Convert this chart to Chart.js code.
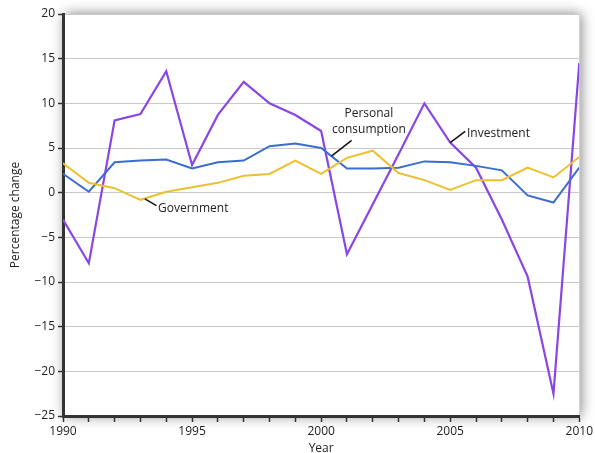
<!DOCTYPE html>
<html>
<head>
<meta charset="utf-8">
<script src="https://cdn.jsdelivr.net/npm/chart.js@4/dist/chart.umd.min.js"></script>
<style>
    html, body { margin: 0; padding: 0; background: #fff; }
    #wrap { width: 595px; height: 453px; }
</style>
</head>
<body>
<div id="wrap"><canvas id="myChart" width="595" height="453"></canvas></div>
<script>
(function () {
    "use strict";

    var years = [1990, 1991, 1992, 1993, 1994, 1995, 1996, 1997, 1998, 1999, 2000,
                 2001, 2002, 2003, 2004, 2005, 2006, 2007, 2008, 2009, 2010];

    var investment = [-3.0, -7.9, 8.1, 8.8, 13.6, 3.1, 8.7, 12.4, 10.0, 8.7, 6.9,
                      -6.9, -1.3, 4.3, 10.0, 5.6, 2.8, -3.0, -9.4, -22.5, 14.5];

    var consumption = [2.1, 0.1, 3.4, 3.6, 3.7, 2.7, 3.4, 3.6, 5.2, 5.5, 5.0,
                       2.7, 2.7, 2.8, 3.5, 3.4, 3.0, 2.5, -0.3, -1.1, 2.8];

    var government = [3.3, 1.1, 0.5, -0.8, 0.1, 0.6, 1.1, 1.9, 2.1, 3.6, 2.1,
                      3.9, 4.7, 2.2, 1.4, 0.3, 1.4, 1.4, 2.8, 1.7, 4.0];

    var yTicks = [-25, -20, -15, -10, -5, 0, 5, 10, 15, 20];
    var xLabelYears = [1990, 1995, 2000, 2005, 2010];

    // series labels in data units, with their leader lines
    var labels = [
        { lines: ['Personal', 'consumption'], x: 2001.85, y: 8.9, from: [2001.18, 5.85], to: [2000.4, 4.1], align: 'center' },
        { lines: ['Investment'], x: 2005.65, y: 6.6, from: [2005.58, 6.85], to: [2005.0, 5.6], align: 'left' },
        { lines: ['Government'], x: 1993.68, y: -1.8, from: [1993.17, -0.7], to: [1993.62, -1.45], align: 'left' }
    ];

    var fontFamily = '"Open Sans", "Liberation Sans", sans-serif';

    var panelShadow = {
        id: 'panelShadow',
        beforeDraw: function (chart) {
            var a = chart.chartArea, ctx = chart.ctx;
            ctx.save();
            ctx.shadowColor = 'rgba(0,0,0,0.5)';
            ctx.shadowBlur = 12;
            ctx.shadowOffsetX = 2;
            ctx.shadowOffsetY = 0;
            ctx.fillStyle = '#fff';
            ctx.fillRect(a.left, a.top, a.right - a.left, a.bottom - a.top);
            ctx.restore();
            ctx.save();
            ctx.strokeStyle = '#d4d4d4';
            ctx.lineWidth = 1;
            ctx.beginPath();
            ctx.moveTo(a.right + 0.5, a.top);
            ctx.lineTo(a.right + 0.5, a.bottom);
            ctx.stroke();
            ctx.restore();
        }
    };

    var seriesLabels = {
        id: 'seriesLabels',
        afterDatasetsDraw: function (chart) {
            var ctx = chart.ctx;
            var xs = chart.scales.x, ys = chart.scales.y;
            ctx.save();
            ctx.font = '12px ' + fontFamily;
            ctx.fillStyle = '#222';
            ctx.textBaseline = 'middle';
            labels.forEach(function (l) {
                ctx.strokeStyle = '#111';
                ctx.lineWidth = 1.5;
                ctx.beginPath();
                ctx.moveTo(xs.getPixelForValue(l.from[0]), ys.getPixelForValue(l.from[1]));
                ctx.lineTo(xs.getPixelForValue(l.to[0]), ys.getPixelForValue(l.to[1]));
                ctx.stroke();
                ctx.textAlign = l.align;
                var px = xs.getPixelForValue(l.x);
                var py = ys.getPixelForValue(l.y);
                l.lines.forEach(function (t, i) {
                    ctx.fillText(t, px, py + i * 16);
                });
            });
            ctx.restore();
        }
    };

    function toPoints(vals) {
        return vals.map(function (v, i) { return { x: years[i], y: v }; });
    }

    function initCharts() {
        var ctx = document.getElementById('myChart').getContext('2d');
        new Chart(ctx, {
            type: 'line',
            data: {
                datasets: [
                    { label: 'Government', data: toPoints(government), borderColor: '#ecc02e', borderWidth: 2, pointRadius: 0, tension: 0 },
                    { label: 'Personal consumption', data: toPoints(consumption), borderColor: '#3b6ccf', borderWidth: 2, pointRadius: 0, tension: 0 },
                    { label: 'Investment', data: toPoints(investment), borderColor: '#8a45e6', borderWidth: 2.2, pointRadius: 0, tension: 0 }
                ]
            },
            options: {
                responsive: false,
                animation: false,
                layout: { padding: { top: 14, right: 14, left: 0, bottom: 0 } },
                plugins: {
                    legend: { display: false },
                    tooltip: { enabled: false }
                },
                scales: {
                    x: {
                        type: 'linear',
                        min: 1990,
                        max: 2010,
                        afterFit: function (s) { s.height = 37; },
                        afterBuildTicks: function (s) {
                            s.ticks = years.map(function (y) { return { value: y }; });
                        },
                        ticks: {
                            autoSkip: false,
                            maxRotation: 0,
                            padding: 2,
                            color: '#222',
                            font: { family: fontFamily, size: 12 },
                            callback: function (v) { return xLabelYears.indexOf(v) >= 0 ? String(v) : ''; }
                        },
                        grid: { drawOnChartArea: false, drawTicks: true, tickLength: 6, tickColor: '#333', tickWidth: 1.5 },
                        border: { color: '#333', width: 3 },
                        title: { display: true, text: 'Year', color: '#222', font: { family: fontFamily, size: 12 }, padding: { top: 0, bottom: -3 } }
                    },
                    y: {
                        min: -25,
                        max: 20,
                        afterFit: function (s) { s.width = 63; },
                        afterBuildTicks: function (s) {
                            s.ticks = yTicks.map(function (v) { return { value: v }; });
                        },
                        ticks: {
                            padding: 3,
                            color: '#222',
                            font: { family: fontFamily, size: 12 },
                            callback: function (v) { return v < 0 ? '\u2212' + Math.abs(v) : String(v); }
                        },
                        grid: { color: '#c9c9c9', lineWidth: 1, tickLength: 5, tickColor: '#333', tickWidth: 1.5 },
                        border: { color: '#333', width: 3 },
                        title: { display: true, text: 'Percentage change', color: '#222', font: { family: fontFamily, size: 12 }, padding: { top: 8, bottom: 0 } }
                    }
                }
            },
            plugins: [panelShadow, seriesLabels]
        });
    }

    document.addEventListener('DOMContentLoaded', initCharts);
})();
</script>
</body>
</html>
